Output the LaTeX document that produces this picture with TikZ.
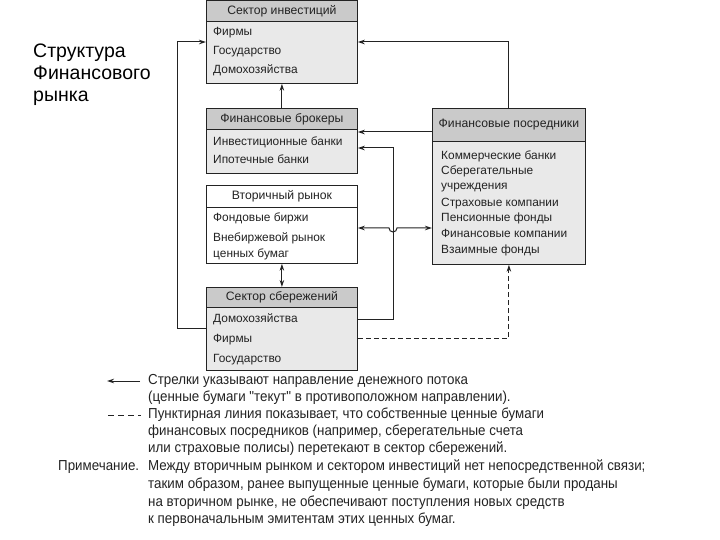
\documentclass[tikz,border=0pt]{standalone}
\usepackage{fontspec}
\setmainfont{Liberation Sans}
\newfontfamily\narrowfont[FakeStretch=0.92]{Liberation Sans}
\usetikzlibrary{arrows.meta,calc}
\definecolor{hdrgray}{RGB}{202,202,202}
\definecolor{bodygray}{RGB}{233,233,233}
\definecolor{ink}{RGB}{35,35,35}
\begin{document}
\begin{tikzpicture}[x=1pt,y=-1pt,
  box/.style={draw=ink, line width=0.8pt, fill=bodygray, anchor=north west, inner sep=0pt, minimum width=151pt},
  wbox/.style={box, fill=white},
  hdr/.style={draw=ink, line width=0.8pt, fill=hdrgray, anchor=north west, inner sep=0pt, minimum width=151pt, text=ink, font=\fontsize{12.2}{14}\selectfont},
  whdr/.style={hdr, fill=white},
  item/.style={anchor=west, inner sep=0pt, text=ink, font=\fontsize{11.9}{14}\selectfont, text height=8.5pt, text depth=2.5pt},
  leg/.style={anchor=west, inner sep=0pt, text=ink, font=\narrowfont\fontsize{14.5}{17}\selectfont, text height=10pt, text depth=3pt},
  ttl/.style={anchor=west, inner sep=0pt, text=black, font=\fontsize{19.5}{22}\selectfont, text height=14pt, text depth=4pt},
  arr/.style={draw=ink, line width=1pt, -{Stealth[length=7pt,width=4.5pt]}},
  dbl/.style={draw=ink, line width=1pt, {Stealth[length=7pt,width=4.5pt]}-{Stealth[length=7pt,width=4.5pt]}},
  dsh/.style={arr, dash pattern=on 5pt off 3pt}
]
\useasboundingbox (0,0) rectangle (720,540);

% Title
\node[ttl] (t1) at (33,53) {Структура};
\node[ttl] (t2) at (33,75) {Финансового};
\node[ttl] (t3) at (33,97) {рынка};

% Сектор инвестиций
\node[box, minimum height=83pt] (inv) at (206,0) {};
\node[hdr, minimum height=21pt] (invh) at (206,0) {Сектор инвестиций};
\node[item] (inv1) at (213,33) {Фирмы};
\node[item] (inv2) at (213,52) {Государство};
\node[item] (inv3) at (213,71) {Домохозяйства};

% Финансовые брокеры
\node[box, minimum height=65pt] (brk) at (206,108) {};
\node[hdr, minimum height=21pt] (brkh) at (206,108) {Финансовые брокеры};
\node[item] (brk1) at (213,143) {Инвестиционные банки};
\node[item] (brk2) at (213,161) {Ипотечные банки};

% Вторичный рынок
\node[wbox, minimum height=78pt] (sec) at (206,185) {};
\node[whdr, minimum height=22pt] (sech) at (206,185) {Вторичный рынок};
\node[item] (sec1) at (213,219) {Фондовые биржи};
\node[item] (sec2) at (213,238) {Внебиржевой рынок};
\node[item] (sec3) at (213,254) {ценных бумаг};

% Сектор сбережений
\node[box, minimum height=83pt] (sav) at (206,287) {};
\node[hdr, minimum height=20pt] (savh) at (206,287) {Сектор сбережений};
\node[item] (sav1) at (213,319) {Домохозяйства};
\node[item] (sav2) at (213,339) {Фирмы};
\node[item] (sav3) at (213,359) {Государство};

% Финансовые посредники
\node[box, minimum width=153pt, minimum height=156pt] (fin) at (432,108) {};
\node[hdr, minimum width=153pt, minimum height=33pt] (finh) at (432,108) {Финансовые посредники};
\node[item] (fin1) at (441,157) {Коммерческие банки};
\node[item] (fin2) at (441,172) {Сберегательные};
\node[item] (fin3) at (441,187) {учреждения};
\node[item] (fin4) at (441,204) {Страховые компании};
\node[item] (fin5) at (441,219) {Пенсионные фонды};
\node[item] (fin6) at (441,234) {Финансовые компании};
\node[item] (fin7) at (441,250) {Взаимные фонды};

% Connectors
\draw[arr] ($(sav.north west)+(0,41)$) -- ++(-29,0) |- ($(inv.north west)+(0,42)$);
\draw[arr] (brk.north) -- (inv.south);
\draw[dbl] (sav.north) -- (sec.south);
\draw[arr] (fin.north) |- ($(inv.north east)+(0,42)$);
\draw[arr] ($(fin.north west)+(0,24)$) -- ($(brk.north east)+(0,24)$);
\draw[arr] ($(sav.north east)+(0,32)$) -| ($(brk.north east)+(36,40)$) -- ($(brk.north east)+(0,40)$);
\draw[dbl] ($(fin.north west)+(0,120)$) -- ++(-35,0) arc[start angle=0, end angle=-180, radius=4pt] -- ($(sec.north east)+(0,43)$);
\draw[dsh] ($(sav.north east)+(0,51)$) -| (fin.south);

% Legend
\coordinate (la1) at (140,381);
\coordinate (la2) at (107,381);
\draw[arr] (la1) -- (la2);
\coordinate (ld1) at (108,415);
\coordinate (ld2) at (141,415);
\draw[draw=ink, line width=1pt, dash pattern=on 6pt off 4pt] (ld1) -- (ld2);

\node[leg] (l1) at (148,381) {Стрелки указывают направление денежного потока};
\node[leg] (l2) at (148,398) {(ценные бумаги "текут" в противоположном направлении).};
\node[leg] (l3) at (148,415) {Пунктирная линия показывает, что собственные ценные бумаги};
\node[leg] (l4) at (148,432) {финансовых посредников (например, сберегательные счета};
\node[leg] (l5) at (148,449) {или страховые полисы) перетекают в сектор сбережений.};
\node[leg] (n0) at (58,467) {Примечание.};
\node[leg] (n1) at (148,467) {Между вторичным рынком и сектором инвестиций нет непосредственной связи;};
\node[leg] (n2) at (148,485) {таким образом, ранее выпущенные ценные бумаги, которые были проданы};
\node[leg] (n3) at (148,503) {на вторичном рынке, не обеспечивают поступления новых средств};
\node[leg] (n4) at (148,520) {к первоначальным эмитентам этих ценных бумаг.};
\end{tikzpicture}
\end{document}
